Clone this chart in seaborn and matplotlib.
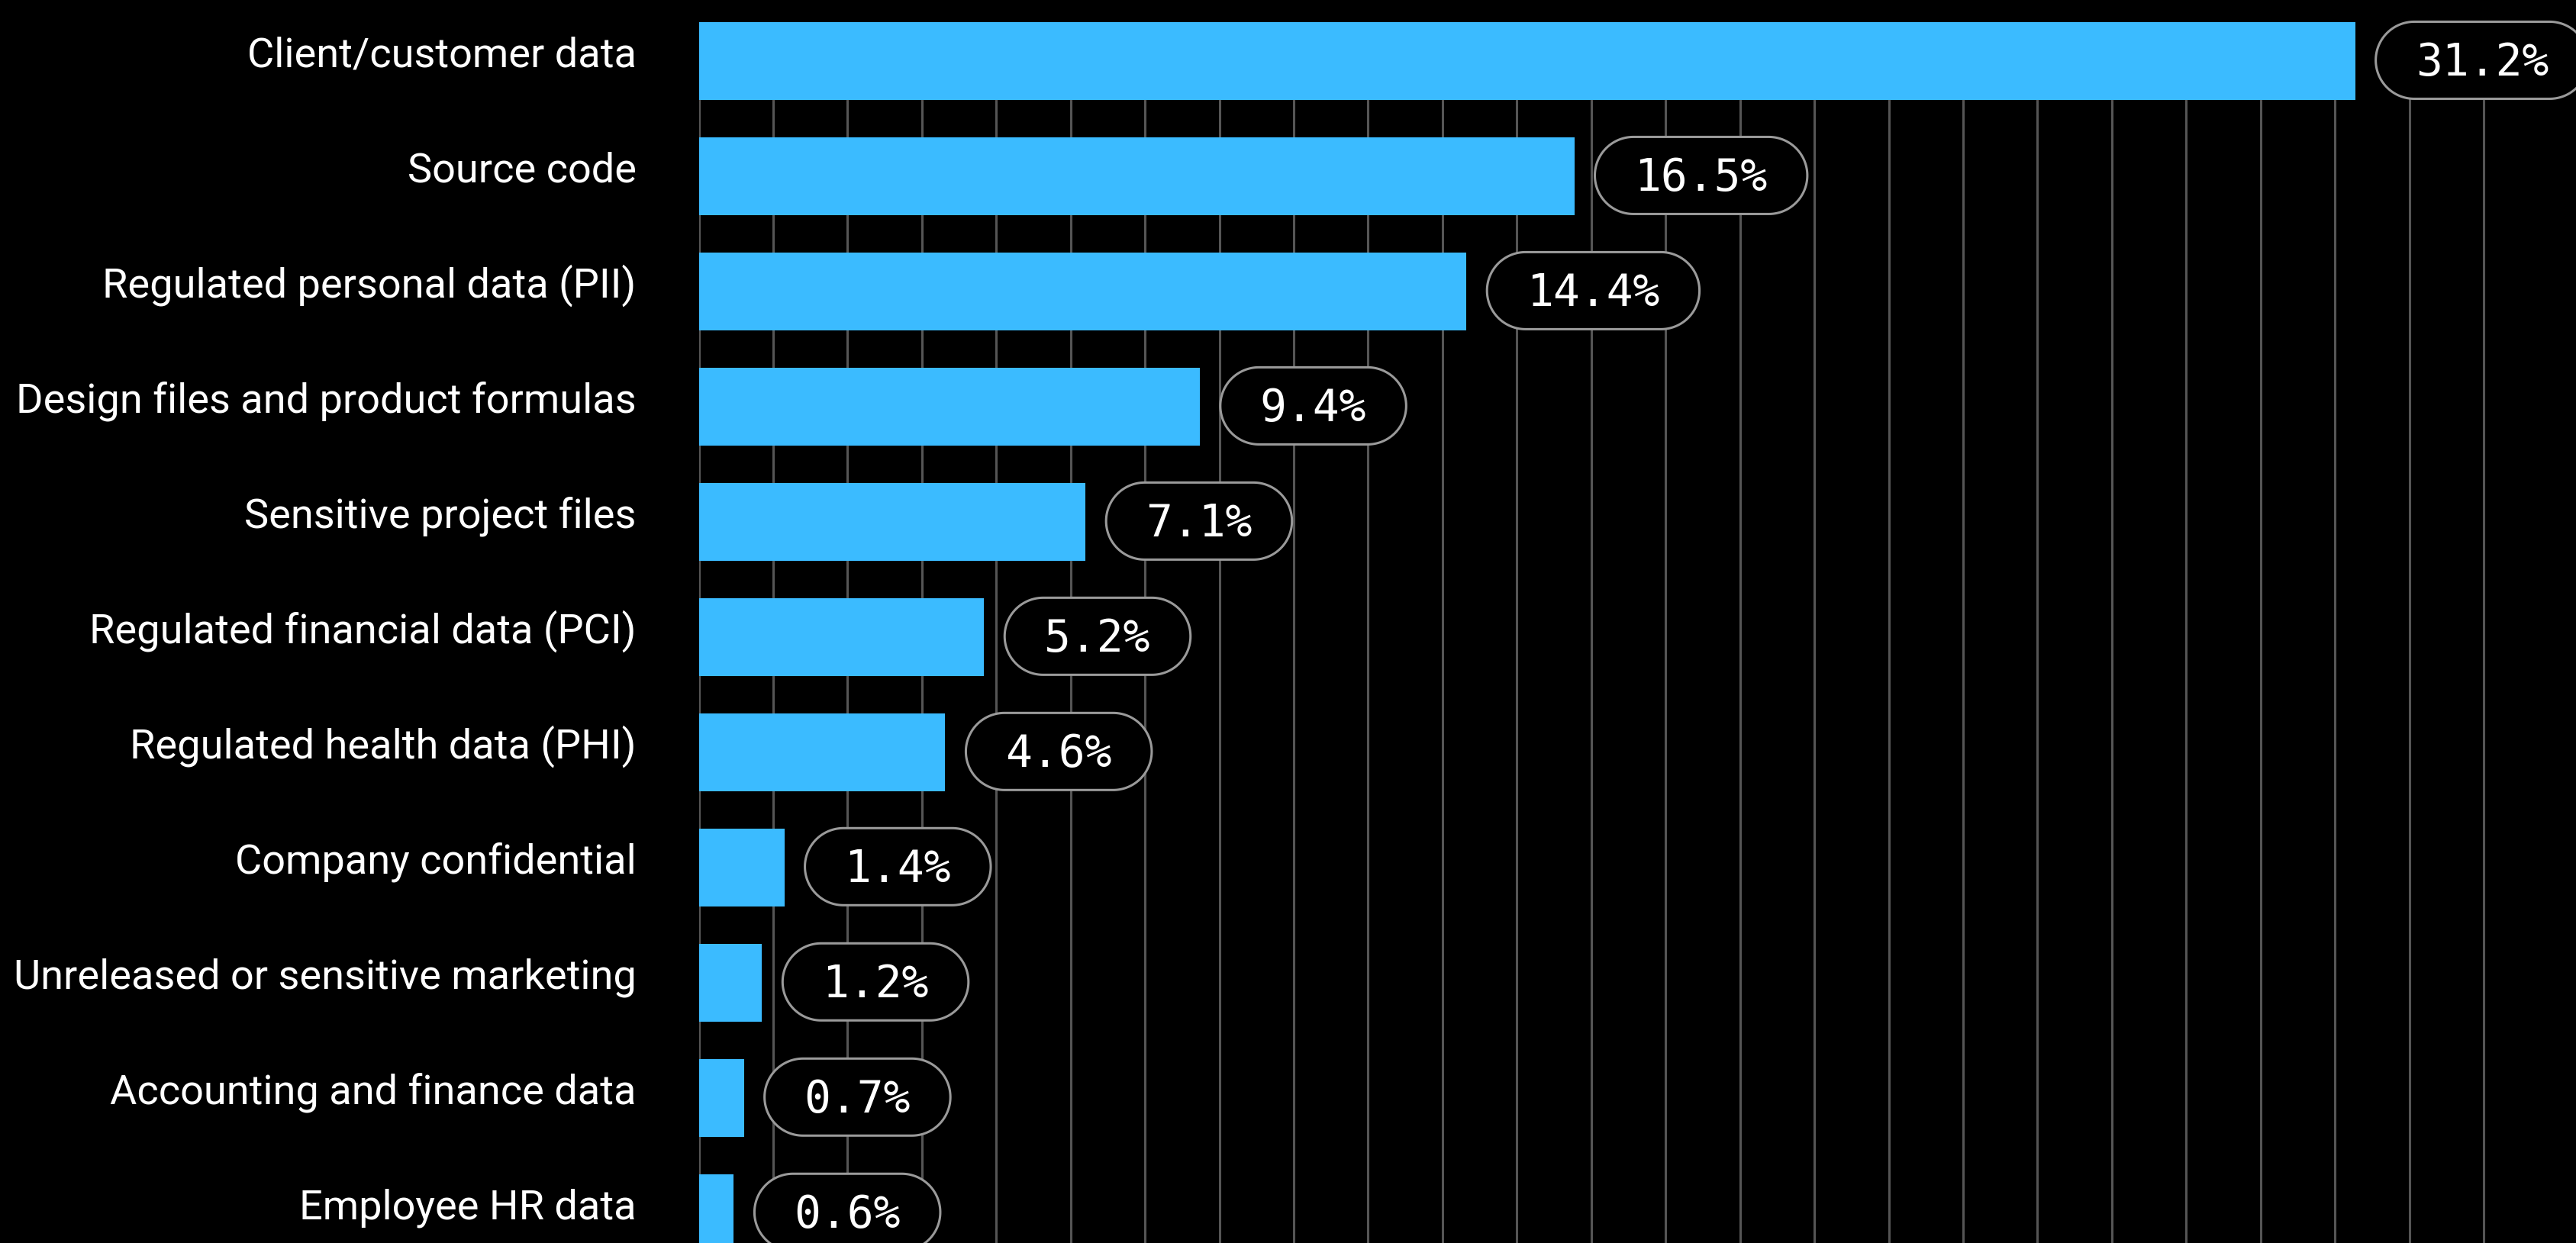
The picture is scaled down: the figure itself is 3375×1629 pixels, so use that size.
import matplotlib
matplotlib.use("Agg")
import matplotlib.pyplot as plt
import seaborn as sns
import numpy as np
import pandas as pd
from matplotlib.patches import Polygon
from matplotlib.transforms import IdentityTransform, offset_copy

categories = [
    "Client/customer data",
    "Source code",
    "Regulated personal data (PII)",
    "Design files and product formulas",
    "Sensitive project files",
    "Regulated financial data (PCI)",
    "Regulated health data (PHI)",
    "Company confidential",
    "Unreleased or sensitive marketing",
    "Accounting and finance data",
    "Employee HR data",
]
# bar lengths
values = [31.18, 16.48, 14.45, 9.43, 7.28, 5.37, 4.64, 1.61, 1.19, 0.85, 0.66]
# labels as printed in the picture
value_labels = ["31.2%", "16.5%", "14.4%", "9.4%", "7.1%", "5.2%", "4.6%",
                "1.4%", "1.2%", "0.7%", "0.6%"]

W, H, DPI = 3375, 1629, 100
BAR_COLOR = "#3bbbff"
GRID_COLOR = "#555555"
PILL_EDGE = "#9a9a9a"

sns.set_theme(style="dark")
plt.rcParams["font.family"] = ["Roboto", "DejaVu Sans"]

fig = plt.figure(figsize=(W / DPI, H / DPI), dpi=DPI, facecolor="black")
ax = fig.add_axes([915.5 / W, 0, 2436 / W, 1600 / H])
ax.set_facecolor("black")

df = pd.DataFrame({"category": categories, "value": values})
sns.barplot(data=df, x="value", y="category", orient="h", color=BAR_COLOR,
            saturation=1, width=0.675, linewidth=0, edgecolor="none", ax=ax)

ax.set_xlim(0, 35)
ax.set_ylim(10.26, -0.3375)
ax.set_xticks(np.arange(0, 35, 1.4))
ax.grid(axis="x", color=GRID_COLOR, linewidth=2.2)
ax.grid(axis="y", visible=False)
ax.set_axisbelow(True)
for s in ax.spines.values():
    s.set_visible(False)
ax.tick_params(length=0, labelbottom=False, labelleft=False)
ax.set_xlabel("")
ax.set_ylabel("")

# category labels
lab_tr = offset_copy(ax.transData, fig=fig, x=-82, y=-8, units="dots")
for i, c in enumerate(categories):
    ax.text(0, i, c, transform=lab_tr, ha="right", va="baseline",
            color="white", fontsize=39, clip_on=False)


def pill_points(x0, yc, w, h, n=80):
    r = h / 2
    a1 = np.linspace(-np.pi / 2, np.pi / 2, n)
    a2 = np.linspace(np.pi / 2, 3 * np.pi / 2, n)
    right = np.column_stack([x0 + w - r + r * np.cos(a1), yc + r * np.sin(a1)])
    left = np.column_stack([x0 + r + r * np.cos(a2), yc + r * np.sin(a2)])
    return np.vstack([right, left])


# value pills
fig.canvas.draw()
renderer = fig.canvas.get_renderer()
for i, (v, lab) in enumerate(zip(values, value_labels)):
    xe, yc = ax.transData.transform((v, i))
    t = fig.text(0, 0, lab, transform=IdentityTransform(), color="white",
                 fontsize=41.8, family="DejaVu Sans Mono",
                 ha="center", va="baseline", zorder=5)
    tw = t.get_window_extent(renderer).width
    h = 101
    w = tw + 104
    x0 = xe + 27
    pc = yc + 1
    t.set_position((x0 + w / 2, pc - 20))
    pill = Polygon(pill_points(x0, pc, w, h), closed=True,
                   transform=IdentityTransform(), facecolor="black",
                   edgecolor=PILL_EDGE, linewidth=2.2, zorder=4)
    fig.add_artist(pill)

fig.savefig("out.png", dpi=DPI, facecolor="black")
